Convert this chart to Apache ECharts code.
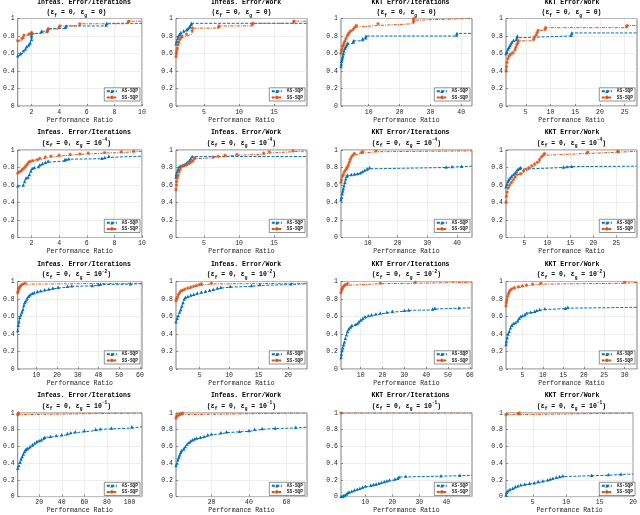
<!DOCTYPE html>
<html>
<head>
<meta charset="utf-8">
<script src="https://cdn.jsdelivr.net/npm/echarts@6/dist/echarts.min.js"></script>
<style>
  html, body { margin: 0; padding: 0; background: #fff; }
  #chart { width: 640px; height: 515px; }
</style>
</head>
<body>
<div id="chart"></div>
<script>
// titles and axes
var metricTitles = ["Infeas. Error/Iterations", "Infeas. Error/Work", "KKT Error/Iterations", "KKT Error/Work"];
var epsExp = ["", "-4", "-2", "-1"];
var seriesNames = ["AS-SQP", "SS-SQP"];
var xMax = [10, 19.7, 43.5, 27.5, 10, 19.7, 45, 29.5, 61, 23.2, 61, 33, 111, 71, 49.5, 20];
var xTicks = [
  [2, 4, 6, 8, 10], [5, 10, 15], [10, 20, 30, 40], [5, 10, 15, 20, 25],
  [2, 4, 6, 8, 10], [5, 10, 15], [10, 20, 30, 40], [5, 10, 15, 20, 25],
  [10, 20, 30, 40, 50, 60], [5, 10, 15, 20], [10, 20, 30, 40, 50, 60], [5, 10, 15, 20, 25, 30],
  [20, 40, 60, 80, 100], [20, 40, 60], [10, 20, 30, 40], [5, 10, 15, 20]
];

// performance profiles, [ratio, fraction]
var as1 = [[1,0.575],[1.2,0.6],[1.4,0.63],[1.55,0.65],[1.65,0.68],[1.8,0.7],[1.9,0.72],[2.0,0.76],[2.0,0.79],[2.0,0.81],[2.02,0.83],[2.72,0.855],[3.15,0.865],[3.2,0.885],[4.45,0.9],[4.5,0.915],[7.4,0.925],[7.45,0.945],[10,0.945]];
var ss1 = [[1,0.745],[1.3,0.77],[1.4,0.78],[1.45,0.81],[1.8,0.82],[1.95,0.83],[2.0,0.84],[3.15,0.85],[3.2,0.88],[4.0,0.9],[4.05,0.915],[5.5,0.94],[9.0,0.96],[9.05,0.97],[10,0.97]];
var as2 = [[1,0.71],[1.1,0.74],[1.25,0.77],[1.35,0.8],[1.5,0.82],[1.7,0.84],[2.1,0.86],[2.5,0.87],[2.6,0.88],[2.9,0.9],[3.0,0.91],[3.15,0.93],[3.2,0.945],[19.7,0.945]];
var ss2 = [[1,0.565],[1.05,0.6],[1.1,0.63],[1.2,0.66],[1.3,0.7],[1.4,0.73],[1.55,0.76],[1.7,0.78],[1.85,0.8],[2.5,0.82],[3.3,0.86],[3.35,0.89],[7.1,0.9],[7.15,0.915],[11.9,0.93],[11.95,0.945],[17.8,0.96],[17.85,0.97],[19.7,0.97]];
var as3 = [[1,0.45],[1.1,0.48],[1.2,0.51],[1.3,0.53],[1.45,0.55],[1.6,0.57],[1.8,0.6],[2.0,0.63],[2.3,0.66],[2.6,0.68],[2.9,0.7],[3.2,0.72],[5.0,0.73],[5.05,0.745],[8.0,0.76],[8.05,0.77],[9.0,0.78],[9.1,0.8],[38.5,0.81],[38.6,0.83],[43.5,0.83]];
var ss3 = [[1,0.6],[1.2,0.63],[1.4,0.65],[1.6,0.68],[1.8,0.7],[2.0,0.72],[2.3,0.74],[2.6,0.77],[3.0,0.8],[3.3,0.82],[3.7,0.84],[4.2,0.86],[5.0,0.88],[5.5,0.9],[6.0,0.92],[13.0,0.94],[24.5,0.96],[24.55,0.98],[24.6,1.0],[43.5,1.0]];
var as4 = [[1,0.6],[1.2,0.62],[1.4,0.65],[1.6,0.67],[1.8,0.69],[2.0,0.71],[2.2,0.73],[2.5,0.75],[3.1,0.76],[3.2,0.78],[3.3,0.8],[14.2,0.81],[14.3,0.835],[27.5,0.835]];
var ss4 = [[1,0.4],[1.1,0.45],[1.2,0.5],[1.4,0.54],[1.6,0.57],[1.9,0.59],[2.3,0.61],[2.8,0.64],[3.0,0.67],[3.2,0.7],[3.4,0.72],[3.5,0.745],[6.6,0.76],[6.8,0.79],[7.1,0.81],[7.3,0.84],[7.5,0.865],[8.9,0.875],[9.0,0.895],[25.4,0.905],[25.5,0.92],[27.5,0.92]];
var as5 = [[1,0.59],[1.4,0.6],[1.5,0.64],[1.6,0.68],[1.75,0.69],[1.85,0.72],[1.95,0.76],[2.05,0.79],[2.2,0.8],[2.5,0.81],[2.6,0.83],[2.8,0.845],[3.0,0.86],[3.2,0.875],[4.4,0.885],[4.5,0.895],[4.7,0.9],[7.1,0.905],[7.3,0.915],[7.6,0.93],[10,0.93]];
var ss5 = [[1,0.735],[1.1,0.75],[1.25,0.76],[1.35,0.78],[1.5,0.8],[1.6,0.82],[1.7,0.84],[1.8,0.86],[1.9,0.87],[2.1,0.88],[2.4,0.89],[2.6,0.905],[3.0,0.92],[3.4,0.93],[4.0,0.94],[4.8,0.95],[5.5,0.955],[6.1,0.965],[7.3,0.97],[8.5,0.98],[9.4,0.985],[10,0.985]];
var as6 = [[1,0.69],[1.05,0.72],[1.15,0.75],[1.3,0.78],[1.45,0.81],[1.7,0.82],[2.0,0.83],[2.3,0.84],[2.6,0.86],[2.9,0.88],[3.1,0.9],[3.3,0.925],[19.7,0.925]];
var ss6 = [[1,0.545],[1.05,0.6],[1.1,0.64],[1.2,0.68],[1.3,0.71],[1.45,0.75],[1.6,0.78],[1.8,0.81],[2.1,0.82],[2.5,0.83],[2.8,0.845],[3.1,0.86],[3.4,0.875],[3.6,0.9],[3.7,0.91],[6.3,0.92],[7.0,0.93],[8.0,0.94],[9.7,0.95],[13.5,0.965],[14.3,0.98],[17.7,0.99],[19.7,0.99]];
var as7 = [[1,0.43],[1.2,0.46],[1.4,0.5],[1.6,0.53],[1.8,0.56],[2.0,0.59],[2.3,0.63],[2.6,0.67],[2.9,0.7],[3.2,0.715],[4.5,0.72],[5.5,0.725],[6.5,0.73],[7.5,0.74],[8.2,0.755],[9.0,0.77],[9.8,0.785],[10.6,0.8],[36.3,0.805],[38.3,0.81],[41.5,0.815],[45,0.815]];
var ss7 = [[1,0.63],[1.2,0.66],[1.5,0.7],[1.8,0.72],[2.1,0.75],[2.5,0.77],[2.9,0.79],[3.2,0.81],[3.5,0.83],[3.8,0.86],[4.1,0.89],[4.5,0.92],[5.0,0.94],[5.5,0.96],[7.8,0.97],[8.3,0.98],[12.8,0.99],[45,0.99]];
var as8 = [[1,0.58],[1.2,0.61],[1.4,0.64],[1.6,0.66],[1.9,0.68],[2.2,0.7],[2.6,0.72],[3.0,0.74],[3.3,0.76],[3.6,0.78],[3.9,0.79],[4.2,0.8],[13.5,0.805],[14.3,0.81],[15.3,0.815],[29.5,0.815]];
var ss8 = [[1,0.4],[1.1,0.47],[1.25,0.52],[1.5,0.57],[1.8,0.6],[2.2,0.63],[2.6,0.66],[3.0,0.69],[3.4,0.72],[4.2,0.73],[4.8,0.76],[5.4,0.78],[6.0,0.8],[6.6,0.82],[7.2,0.84],[7.8,0.86],[8.3,0.89],[8.7,0.92],[9.1,0.94],[9.4,0.96],[18.6,0.965],[18.8,0.975],[25.3,0.98],[25.4,0.985],[29.5,0.985]];
var as9 = [[1,0.44],[1.3,0.5],[1.6,0.54],[2.0,0.59],[2.5,0.62],[3.0,0.65],[3.5,0.68],[4.0,0.73],[4.4,0.76],[5.0,0.78],[5.6,0.81],[6.2,0.83],[7.0,0.85],[8.0,0.865],[9.0,0.875],[10.5,0.885],[12,0.895],[14,0.905],[16,0.915],[18,0.925],[20.5,0.935],[25,0.945],[27,0.95],[37,0.955],[40,0.965],[41,0.97],[55.5,0.975],[61,0.975]];
var ss9 = [[1,0.87],[1.2,0.89],[1.5,0.91],[1.8,0.93],[2.2,0.945],[2.8,0.96],[3.5,0.97],[4.5,0.98],[61,0.98]];
var as10 = [[1,0.54],[1.2,0.58],[1.4,0.61],[1.6,0.65],[1.8,0.68],[2.0,0.72],[2.2,0.76],[2.4,0.8],[2.6,0.82],[3.0,0.83],[3.5,0.845],[4.0,0.855],[4.6,0.87],[5.3,0.88],[6.0,0.89],[6.7,0.9],[7.3,0.91],[8.0,0.925],[8.6,0.935],[10.2,0.945],[13.8,0.955],[15.2,0.965],[20.5,0.975],[23.2,0.975]];
var ss10 = [[1,0.78],[1.1,0.8],[1.25,0.82],[1.4,0.85],[1.6,0.87],[1.8,0.89],[2.1,0.9],[2.5,0.915],[3.0,0.925],[3.5,0.935],[4.0,0.945],[4.5,0.955],[5.0,0.965],[5.3,0.972],[7.0,0.98],[23.2,0.98]];
var as11 = [[1,0.13],[1.2,0.17],[1.5,0.21],[1.8,0.24],[2.2,0.28],[2.6,0.31],[3.0,0.35],[3.5,0.39],[4.0,0.43],[4.6,0.46],[5.3,0.48],[6.0,0.5],[7.5,0.51],[8.5,0.52],[9.2,0.54],[10,0.56],[11,0.58],[12,0.6],[13.5,0.61],[15,0.62],[17,0.63],[19,0.64],[22,0.65],[24.5,0.66],[30,0.67],[32,0.675],[43,0.685],[44,0.695],[55,0.7],[61,0.7]];
var ss11 = [[1,0.87],[1.3,0.9],[1.6,0.92],[2.0,0.94],[2.5,0.955],[3.2,0.965],[4.0,0.975],[19,0.98],[35,0.99],[61,0.99]];
var as12 = [[1,0.28],[1.1,0.32],[1.3,0.36],[1.5,0.4],[1.8,0.43],[2.1,0.47],[2.4,0.5],[2.8,0.52],[3.3,0.53],[3.8,0.55],[4.2,0.58],[4.6,0.6],[5.0,0.61],[5.6,0.62],[6.0,0.64],[7.0,0.65],[8.0,0.66],[8.5,0.67],[9.2,0.68],[10.5,0.69],[15.5,0.695],[16.1,0.705],[33,0.705]];
var ss12 = [[1,0.72],[1.1,0.76],[1.2,0.79],[1.4,0.83],[1.6,0.86],[1.8,0.88],[2.0,0.9],[2.4,0.915],[3.0,0.93],[4.0,0.94],[5.0,0.95],[6.0,0.96],[7.5,0.97],[9.5,0.98],[30,0.99],[33,0.99]];
var as13 = [[1,0.34],[2,0.37],[3,0.41],[4,0.45],[5,0.48],[6,0.51],[7,0.54],[8,0.56],[9,0.57],[10,0.58],[12,0.6],[14,0.62],[16,0.64],[18,0.66],[20,0.67],[22,0.68],[24,0.7],[25,0.71],[30,0.72],[35,0.73],[40,0.74],[45,0.755],[48,0.765],[52,0.775],[60,0.79],[70,0.805],[74,0.81],[84,0.82],[102,0.835],[111,0.835]];
var ss13 = [[1,0.98],[1.5,1.0],[111,1.0]];
var as14 = [[1,0.37],[1.5,0.4],[2,0.44],[2.5,0.47],[3,0.5],[3.5,0.53],[4,0.55],[5,0.57],[6,0.6],[7,0.63],[8,0.65],[9,0.67],[10,0.68],[11,0.69],[12,0.7],[14,0.71],[16,0.72],[18,0.74],[20,0.75],[25,0.765],[28,0.775],[35,0.78],[40,0.79],[43,0.805],[47,0.815],[54,0.82],[65,0.83],[71,0.83]];
var ss14 = [[1,0.94],[1.5,0.96],[2.0,0.97],[3.0,0.98],[3.5,0.99],[4.5,1.0],[71,1.0]];
var as15 = [[1,0.0],[1.5,0.005],[2,0.01],[2.5,0.02],[3,0.03],[3.5,0.045],[4,0.055],[5,0.065],[6,0.08],[7,0.09],[8,0.1],[9,0.115],[10,0.125],[12,0.135],[13,0.145],[14,0.15],[15,0.16],[16,0.17],[17,0.18],[18,0.19],[19,0.2],[21,0.21],[22,0.22],[22.5,0.235],[25,0.245],[38,0.25],[45,0.255],[49.5,0.255]];
var ss15 = [[1,1.0],[49.5,1.0]];
var as16 = [[1,0.02],[1.1,0.05],[1.3,0.07],[1.6,0.09],[2.0,0.1],[2.4,0.12],[2.8,0.13],[3.2,0.14],[3.8,0.15],[4.5,0.16],[5.2,0.165],[5.8,0.18],[6.5,0.19],[7.2,0.2],[7.6,0.21],[8.0,0.22],[8.5,0.23],[9.0,0.24],[9.5,0.25],[13.8,0.255],[16.3,0.265],[18.2,0.27],[20,0.27]];
var ss16 = [[1,0.98],[2.8,0.99],[3.0,1.0],[20,1.0]];

var asData = [as1, as2, as3, as4, as5, as6, as7, as8, as9, as10, as11, as12, as13, as14, as15, as16];
var ssData = [ss1, ss2, ss3, ss4, ss5, ss6, ss7, ss8, ss9, ss10, ss11, ss12, ss13, ss14, ss15, ss16];

var FONT = "Liberation Mono";
var INK = "#262626";
var BLUE = "#0072BD";
var ORANGE = "#D95319";
var colLeft = [11, 176, 341, 506];
var rowTop = [18.5, 150, 281.5, 413];
var titleShift = [7.5, 4.5, 4, 0.5]; // first title line sits a bit right of centre
var plotW = 131;
var plotH = 87.5;

// last point is only the extension to the right edge, no marker
function withTail(pts) {
  return pts.map(function (p, i) {
    return i === pts.length - 1 ? { value: p, symbol: "none" } : p;
  });
}

function init_perf_profiles(container) {
  var myChart = echarts.init(document.getElementById(container));
  var grids = [], xAxes = [], yAxes = [], titles = [], legends = [], series = [];

  for (var k = 0; k < 16; k++) {
    var r = Math.floor(k / 4), c = k % 4;
    var gLeft = colLeft[c], gTop = rowTop[r];
    var hasExp = epsExp[r] !== "";

    grids.push({
      left: gLeft, top: gTop, width: plotW, height: plotH,
      show: true, borderColor: INK, borderWidth: 0.6, backgroundColor: "#fff"
    });

    xAxes.push({
      type: "value", gridIndex: k, min: 1, max: xMax[k],
      axisLine: { show: false },
      axisTick: { show: true, inside: true, length: 2, customValues: xTicks[k], lineStyle: { color: INK, width: 0.5 } },
      axisLabel: { customValues: xTicks[k], fontSize: 6.5, fontFamily: FONT, color: INK, margin: 2.5 },
      splitLine: { show: true, lineStyle: { color: "#e3e3e3", width: 0.6 } },
      name: "Performance Ratio", nameLocation: "middle", nameGap: 9.5,
      nameTextStyle: { fontSize: 6.5, fontFamily: FONT, color: INK }
    });

    yAxes.push({
      type: "value", gridIndex: k, min: 0, max: 1, interval: 0.2,
      axisLine: { show: false },
      axisTick: { show: true, inside: true, length: 2, lineStyle: { color: INK, width: 0.5 } },
      axisLabel: { fontSize: 6.5, fontFamily: FONT, color: INK, margin: 3 },
      splitLine: { show: true, lineStyle: { color: "#e3e3e3", width: 0.6 } }
    });

    var line2 = "{n|(ε}{s|f}{n| = 0, ε}{s|g}{n| = " +
      (hasExp ? "10}{p|" + epsExp[r] + "}{n|)}" : "0)}");
    titles.push({
      text: "{b|" + metricTitles[c] + "}\n" + line2,
      left: gLeft + plotW / 2, top: gTop - (hasExp ? 22.5 : 20.5), textAlign: "center", padding: 0,
      textStyle: {
        fontFamily: FONT, fontSize: 6.5, fontWeight: "bold", color: "#000",
        rich: {
          b: { fontFamily: FONT, fontSize: 6.5, fontWeight: "bold", color: "#000", lineHeight: hasExp ? 10 : 9, padding: [0, 0, 0, titleShift[c] * 2] },
          n: { fontFamily: FONT, fontSize: 6.5, fontWeight: "bold", color: "#000", lineHeight: 11 },
          s: { fontFamily: FONT, fontSize: 4.5, fontWeight: "bold", color: "#000", lineHeight: 4.5, verticalAlign: "bottom" },
          p: { fontFamily: FONT, fontSize: 4.5, fontWeight: "bold", color: "#000", lineHeight: 4.5, verticalAlign: "top" }
        }
      }
    });

    legends.push({
      data: seriesNames, orient: "vertical", selectedMode: false,
      right: 640 - (gLeft + plotW) + 2, bottom: 515 - (gTop + plotH) + 5,
      itemWidth: 10, itemHeight: 4, itemGap: 1, padding: [1, 2, 1, 1.5],
      borderColor: INK, borderWidth: 0.5, backgroundColor: "#fff",
      textStyle: { fontSize: 4.5, fontFamily: FONT, fontWeight: "bold", color: INK }
    });

    series.push({
      name: seriesNames[0], type: "line", xAxisIndex: k, yAxisIndex: k,
      step: "end", data: withTail(asData[k]),
      symbol: "triangle", symbolSize: 3.4,
      lineStyle: { color: BLUE, width: 1, type: [3, 1.5] },
      itemStyle: { color: BLUE }
    });
    series.push({
      name: seriesNames[1], type: "line", xAxisIndex: k, yAxisIndex: k,
      step: "end", data: withTail(ssData[k]),
      symbol: "path://M0,5L10,5M5,0L5,10M1.5,1.5L8.5,8.5M8.5,1.5L1.5,8.5", symbolSize: 3.4,
      lineStyle: { color: ORANGE, width: 1, type: [3, 1.2, 1, 1.2] },
      itemStyle: { color: ORANGE, borderColor: ORANGE, borderWidth: 0.8 }
    });
  }

  var option = {
    animation: false,
    backgroundColor: "#fff",
    title: titles,
    legend: legends,
    grid: grids,
    xAxis: xAxes,
    yAxis: yAxes,
    series: series
  };

  window.addEventListener("resize", function () {
    myChart.resize();
  });
  myChart.setOption(option);
}

init_perf_profiles("chart");
</script>
</body>
</html>
